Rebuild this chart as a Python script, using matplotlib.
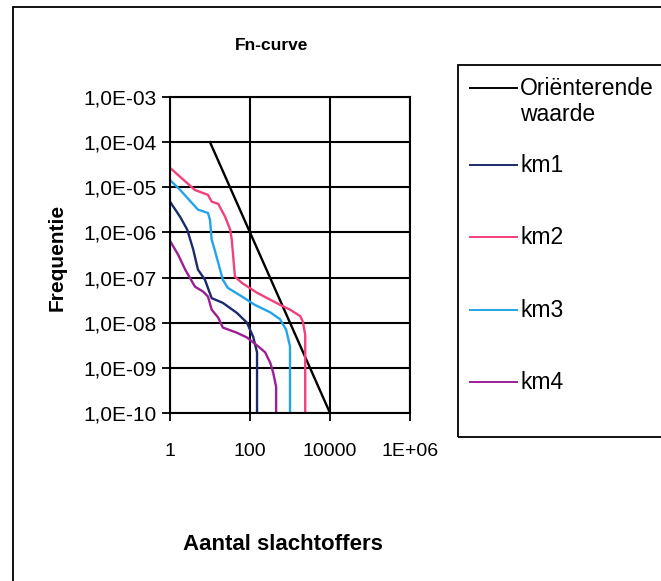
import numpy as np
import matplotlib
matplotlib.use("Agg")
import matplotlib.pyplot as plt
from matplotlib.lines import Line2D
from matplotlib.patches import Rectangle
from matplotlib.ticker import FixedLocator, FuncFormatter, NullLocator

plt.rcParams['font.family'] = ['Liberation Sans', 'DejaVu Sans']

# --- FN data (number of victims N, cumulative frequency F) ---
orient_n = [10, 10000]
orient_f = [1e-4, 1e-10]

km1_n = [1, 1.8, 2.7, 3.8, 5, 7.5, 11, 21, 47, 84, 100, 120, 150, 150]
km1_f = [4.8e-6, 2.2e-6, 1.15e-6, 4.2e-7, 1.5e-7, 8.9e-8, 3.5e-8, 2.75e-8,
         1.65e-8, 1e-8, 7e-9, 4.9e-9, 2.2e-9, 1e-10]

km2_n = [1, 4.2, 8.9, 11, 16, 24, 32, 35, 42, 63, 150, 560, 1000, 1800,
         2100, 2400, 2400, 2400]
km2_f = [2.7e-5, 8.7e-6, 6.8e-6, 4.8e-6, 4.3e-6, 2.2e-6, 1.15e-6, 6.9e-7,
         1.05e-7, 7.6e-8, 4.6e-8, 2.5e-8, 1.95e-8, 1.4e-8, 1.05e-8, 5.4e-9,
         1.5e-9, 1e-10]

km3_n = [1, 1.8, 5, 8.9, 10, 11, 13, 21, 28, 63, 130, 320, 560, 800, 1000, 1000]
km3_f = [1.45e-5, 8.7e-6, 3.2e-6, 2.7e-6, 1.9e-6, 6.9e-7, 4.2e-7, 8.9e-8,
         5.9e-8, 3.8e-8, 2.5e-8, 1.7e-8, 1.2e-8, 7e-9, 3e-9, 1e-10]

km4_n = [1, 1.6, 2.4, 4.2, 6.7, 8.9, 11, 16, 21, 47, 84, 160, 240, 320, 380,
         450, 450]
km4_f = [6.5e-7, 3.2e-7, 1.5e-7, 6.3e-8, 4.9e-8, 3.8e-8, 1.95e-8, 1.3e-8,
         7.8e-9, 6e-9, 4.7e-9, 3e-9, 2.2e-9, 1.3e-9, 7.8e-10, 3.8e-10, 1e-10]

labels = ["Oriënterende\nwaarde", "km1", "km2", "km3", "km4"]
colors = ["black", "#1c2a6e", "#f2407c", "#22a4ea", "#9c1f94"]
series = [(orient_n, orient_f), (km1_n, km1_f), (km2_n, km2_f),
          (km3_n, km3_f), (km4_n, km4_f)]

x_ticks = [1, 1e2, 1e4, 1e6]
x_ticklabels = ["1", "100", "10000", "1E+06"]
y_ticks = [10.0 ** e for e in range(-10, -2)]

W, H = 661, 581
fig = plt.figure(figsize=(W / 100, H / 100), dpi=100)

# outer chart border (runs off the right and bottom edge)
fig.add_artist(Rectangle((13 / W, -0.05), 1.1, 1 - 7 / H + 0.05,
                         transform=fig.transFigure, fill=False,
                         lw=1.3, ec="black"))

ax = fig.add_axes([170 / W, 168 / H, 240 / W, 316 / H])
for (n, f), c in zip(series, colors):
    ax.plot(n, f, color=c, lw=1.7)

ax.set_xscale("log")
ax.set_yscale("log")
ax.set_xlim(1, 1e6)
ax.set_ylim(1e-10, 1e-3)

ax.xaxis.set_major_locator(FixedLocator(x_ticks))
ax.xaxis.set_major_formatter(FuncFormatter(
    lambda v, p: x_ticklabels[x_ticks.index(v)] if v in x_ticks else ""))
ax.xaxis.set_minor_locator(NullLocator())
ax.yaxis.set_major_locator(FixedLocator(y_ticks))
ax.yaxis.set_major_formatter(FuncFormatter(
    lambda v, p: "1,0E-%02d" % round(-np.log10(v))))
ax.yaxis.set_minor_locator(NullLocator())

ax.grid(True, which="major", color="black", lw=1.5)
for s in ax.spines.values():
    s.set_linewidth(1.5)
ax.tick_params(direction="inout", length=11, width=1.3, labelsize=14,
               colors="black")
ax.tick_params(axis="x", pad=16)
ax.tick_params(axis="y", pad=4, labelsize=15)

fig.text(272 / W, 1 - 45 / H, "Fn-curve", fontsize=12.5, fontweight="bold",
         ha="center", va="center")
fig.text(57 / W, 1 - 257 / H, "Frequentie", fontsize=15, fontweight="bold",
         rotation=90, ha="center", va="center")
fig.text(283 / W, 1 - 545 / H, "Aantal slachtoffers", fontsize=16,
         fontweight="bold", ha="center", va="center")

# legend box, drawn by hand
fig.add_artist(Rectangle((458 / W, 1 - 437 / H), 0.5, (437 - 65) / H,
                         transform=fig.transFigure, fill=False,
                         lw=1.3, ec="black"))
entry_y = [88, 165, 237, 310, 382]
for lab, c, y in zip(labels, colors, entry_y):
    yf = 1 - y / H
    fig.add_artist(Line2D([470 / W, 517 / W], [yf, yf],
                          transform=fig.transFigure, color=c, lw=1.4))
    fig.text(520 / W, yf + 11 / H, lab, fontsize=16.5, ha="left", va="top",
             linespacing=1.15, transform=fig.transFigure)

fig.savefig("out.png", dpi=100)
